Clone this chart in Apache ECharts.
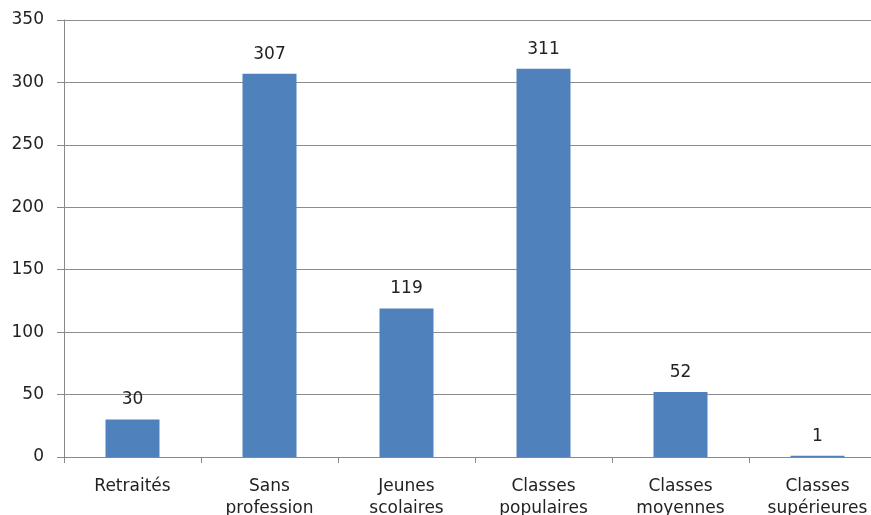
<!DOCTYPE html>
<html>
<head>
<meta charset="utf-8">
<script src="https://cdn.jsdelivr.net/npm/echarts@6/dist/echarts.min.js"></script>
<style>
  html, body { margin: 0; padding: 0; background: #fff; }
  #chart { width: 871px; height: 515px; }
</style>
</head>
<body>
<div id="chart"></div>
<script>
// data
const categories = ['Retraités', 'Sans\nprofession', 'Jeunes\nscolaires', 'Classes\npopulaires', 'Classes\nmoyennes', 'Classes\nsupérieures']
const values = [30, 307, 119, 311, 52, 1]

const myChart = echarts.init(document.getElementById('chart'))
const font = 'DejaVu Sans, Verdana, sans-serif'

const option = {
  animation: false,
  grid: {
    left: 64,
    top: 20,
    width: 822, // plot runs past the right edge of the picture
    height: 437,
    containLabel: false,
    outerBoundsMode: 'none',
  },
  xAxis: {
    type: 'category',
    data: categories,
    axisLine: { lineStyle: { color: '#888', width: 1 } },
    axisTick: { show: true, length: 6, lineStyle: { color: '#888' } },
    axisLabel: {
      color: '#222',
      fontSize: 17,
      fontFamily: font,
      lineHeight: 22,
      margin: 19,
      interval: 0,
    },
  },
  yAxis: {
    type: 'value',
    min: 0,
    max: 350,
    interval: 50,
    axisLine: { show: true, lineStyle: { color: '#888' } },
    axisTick: { show: true, length: 7, lineStyle: { color: '#888' } },
    axisLabel: {
      color: '#222',
      fontSize: 17,
      fontFamily: font,
      margin: 20,
    },
    splitLine: { lineStyle: { color: '#8c8c8c', width: 1 } },
  },
  series: [
    {
      type: 'bar',
      data: values,
      barWidth: 54,
      itemStyle: { color: '#4F81BD' },
      label: {
        show: true,
        position: 'top',
        distance: 11,
        color: '#222',
        fontSize: 17,
        fontFamily: font,
      },
    },
  ],
}
option && myChart.setOption(option)
</script>
</body>
</html>
